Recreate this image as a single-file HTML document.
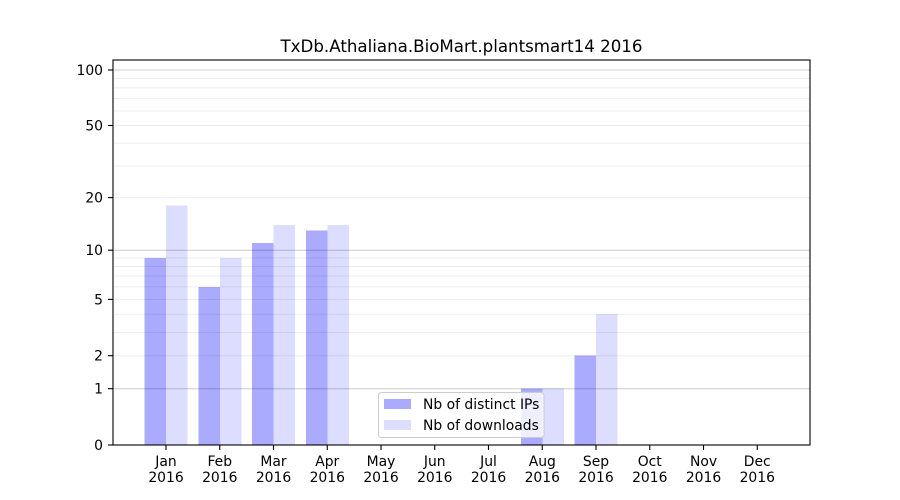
<!DOCTYPE html>
<html>
<head>
<meta charset="utf-8">
<style>
  html, body { margin: 0; padding: 0; background: #ffffff; }
  svg { display: block; }
  text { font-family: "DejaVu Sans", "Liberation Sans", sans-serif; fill: #000; }
</style>
</head>
<body>
<svg width="900" height="500" viewBox="0 0 900 500" xmlns="http://www.w3.org/2000/svg">
  <rect x="0" y="0" width="900" height="500" fill="#ffffff"/>

  <!-- bars -->
  <g shape-rendering="crispEdges">
    <rect x="144.5" y="257.9" width="21.5" height="187.1" fill="#aaaaff"/>
    <rect x="166" y="205.7" width="21.5" height="239.3" fill="#ddddff"/>
    <rect x="198.25" y="286.9" width="21.5" height="158.1" fill="#aaaaff"/>
    <rect x="219.75" y="257.9" width="21.5" height="187.1" fill="#ddddff"/>
    <rect x="252" y="243.1" width="21.5" height="201.9" fill="#aaaaff"/>
    <rect x="273.5" y="225" width="21.5" height="220" fill="#ddddff"/>
    <rect x="305.75" y="230.6" width="21.5" height="214.4" fill="#aaaaff"/>
    <rect x="327.25" y="225" width="21.5" height="220" fill="#ddddff"/>
    <rect x="520.75" y="388.7" width="21.5" height="56.3" fill="#aaaaff"/>
    <rect x="542.25" y="388.7" width="21.5" height="56.3" fill="#ddddff"/>
    <rect x="574.5" y="355.7" width="21.5" height="89.3" fill="#aaaaff"/>
    <rect x="596" y="314.2" width="21.5" height="130.8" fill="#ddddff"/>
  </g>

  <!-- minor grid -->
  <g stroke="rgba(0,0,0,0.07)" stroke-width="1">
    <line x1="113" x2="810" y1="355.7" y2="355.7"/>
    <line x1="113" x2="810" y1="332.4" y2="332.4"/>
    <line x1="113" x2="810" y1="314.2" y2="314.2"/>
    <line x1="113" x2="810" y1="299.4" y2="299.4"/>
    <line x1="113" x2="810" y1="286.9" y2="286.9"/>
    <line x1="113" x2="810" y1="276.0" y2="276.0"/>
    <line x1="113" x2="810" y1="266.5" y2="266.5"/>
    <line x1="113" x2="810" y1="257.9" y2="257.9"/>
    <line x1="113" x2="810" y1="197.6" y2="197.6"/>
    <line x1="113" x2="810" y1="166.0" y2="166.0"/>
    <line x1="113" x2="810" y1="143.2" y2="143.2"/>
    <line x1="113" x2="810" y1="125.5" y2="125.5"/>
    <line x1="113" x2="810" y1="111.0" y2="111.0"/>
    <line x1="113" x2="810" y1="98.6" y2="98.6"/>
    <line x1="113" x2="810" y1="87.9" y2="87.9"/>
    <line x1="113" x2="810" y1="78.5" y2="78.5"/>
  </g>
  <!-- major grid -->
  <g stroke="rgba(0,0,0,0.2)" stroke-width="1">
    <line x1="113" x2="810" y1="388.7" y2="388.7"/>
    <line x1="113" x2="810" y1="250.2" y2="250.2"/>
    <line x1="113" x2="810" y1="70" y2="70"/>
  </g>

  <!-- axes frame -->
  <rect x="113" y="60" width="697" height="385" fill="none" stroke="#000" stroke-width="1.1"/>

  <!-- y ticks -->
  <g stroke="#000" stroke-width="1.1">
    <line x1="108" x2="113" y1="445" y2="445"/>
    <line x1="108" x2="113" y1="388.7" y2="388.7"/>
    <line x1="108" x2="113" y1="355.7" y2="355.7"/>
    <line x1="108" x2="113" y1="299.4" y2="299.4"/>
    <line x1="108" x2="113" y1="250.2" y2="250.2"/>
    <line x1="108" x2="113" y1="197.6" y2="197.6"/>
    <line x1="108" x2="113" y1="125.5" y2="125.5"/>
    <line x1="108" x2="113" y1="70" y2="70"/>
  </g>
  <g font-size="13.9" text-anchor="end">
    <text x="103" y="450">0</text>
    <text x="103" y="393.7">1</text>
    <text x="103" y="360.7">2</text>
    <text x="103" y="304.4">5</text>
    <text x="103" y="255.2">10</text>
    <text x="103" y="202.6">20</text>
    <text x="103" y="130.5">50</text>
    <text x="103" y="75">100</text>
  </g>

  <!-- x ticks -->
  <g stroke="#000" stroke-width="1.1">
    <line x1="166" x2="166" y1="445" y2="450"/>
    <line x1="219.75" x2="219.75" y1="445" y2="450"/>
    <line x1="273.5" x2="273.5" y1="445" y2="450"/>
    <line x1="327.25" x2="327.25" y1="445" y2="450"/>
    <line x1="381" x2="381" y1="445" y2="450"/>
    <line x1="434.75" x2="434.75" y1="445" y2="450"/>
    <line x1="488.5" x2="488.5" y1="445" y2="450"/>
    <line x1="542.25" x2="542.25" y1="445" y2="450"/>
    <line x1="596" x2="596" y1="445" y2="450"/>
    <line x1="649.75" x2="649.75" y1="445" y2="450"/>
    <line x1="703.5" x2="703.5" y1="445" y2="450"/>
    <line x1="757.25" x2="757.25" y1="445" y2="450"/>
  </g>
  <g font-size="13.9" text-anchor="middle">
    <text x="166" y="466">Jan</text><text x="166" y="482">2016</text>
    <text x="219.75" y="466">Feb</text><text x="219.75" y="482">2016</text>
    <text x="273.5" y="466">Mar</text><text x="273.5" y="482">2016</text>
    <text x="327.25" y="466">Apr</text><text x="327.25" y="482">2016</text>
    <text x="381" y="466">May</text><text x="381" y="482">2016</text>
    <text x="434.75" y="466">Jun</text><text x="434.75" y="482">2016</text>
    <text x="488.5" y="466">Jul</text><text x="488.5" y="482">2016</text>
    <text x="542.25" y="466">Aug</text><text x="542.25" y="482">2016</text>
    <text x="596" y="466">Sep</text><text x="596" y="482">2016</text>
    <text x="649.75" y="466">Oct</text><text x="649.75" y="482">2016</text>
    <text x="703.5" y="466">Nov</text><text x="703.5" y="482">2016</text>
    <text x="757.25" y="466">Dec</text><text x="757.25" y="482">2016</text>
  </g>

  <!-- title -->
  <text x="461.5" y="52" font-size="16.67" text-anchor="middle">TxDb.Athaliana.BioMart.plantsmart14 2016</text>

  <!-- legend -->
  <rect x="378.5" y="392.5" width="165.5" height="45" rx="3" ry="3" fill="rgba(255,255,255,0.8)" stroke="#cccccc" stroke-width="1"/>
  <rect x="384" y="399" width="27" height="10" fill="#aaaaff"/>
  <rect x="384" y="420" width="27" height="10" fill="#ddddff"/>
  <g font-size="13.9">
    <text x="423" y="409">Nb of distinct IPs</text>
    <text x="423" y="430">Nb of downloads</text>
  </g>
</svg>
</body>
</html>
